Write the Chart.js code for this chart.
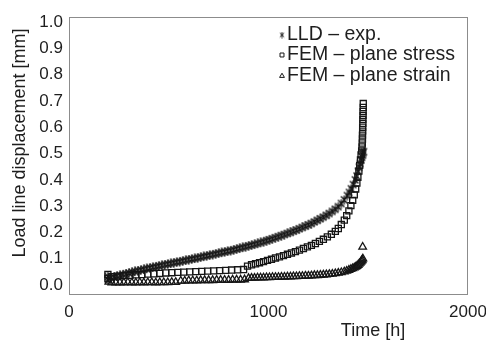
<!DOCTYPE html>
<html><head><meta charset="utf-8">
<script src="https://cdn.jsdelivr.net/npm/chart.js@4.4.1/dist/chart.umd.min.js"></script>
<style>html,body{margin:0;padding:0;background:#fff}#wrap{width:486px;height:340px;position:relative}</style>
</head><body><div id="wrap"><canvas id="c" width="486" height="340"></canvas></div>
<script>
const seriesNames = ['LLD \u2013 exp.', 'FEM \u2013 plane stress', 'FEM \u2013 plane strain'];
const xTicks = [0, 1000, 2000];
const yTicks = [0, 0.1, 0.2, 0.3, 0.4, 0.5, 0.6, 0.7, 0.8, 0.9, 1.0];
const xTitle = 'Time [h]';
const yTitle = 'Load line displacement [mm]';

// [time h, displacement mm]
const lldExp = [[195,0.02],[195,0.032],[210,0.028],[225,0.031],[240,0.034],[255,0.037],[270,0.04],[285,0.043],[300,0.046],[315,0.049],[330,0.052],[345,0.055],[360,0.057],[375,0.06],[390,0.063],[405,0.065],[420,0.068],[435,0.07],[450,0.073],[465,0.075],[480,0.078],[495,0.08],[510,0.082],[525,0.085],[540,0.087],[555,0.089],[570,0.092],[585,0.094],[600,0.097],[615,0.099],[630,0.101],[645,0.104],[660,0.106],[675,0.109],[690,0.111],[705,0.114],[720,0.116],[735,0.119],[750,0.121],[765,0.124],[780,0.126],[795,0.129],[810,0.131],[825,0.134],[840,0.137],[855,0.14],[870,0.143],[885,0.146],[900,0.149],[915,0.152],[930,0.155],[945,0.158],[960,0.162],[975,0.165],[990,0.169],[1005,0.172],[1020,0.176],[1035,0.18],[1050,0.184],[1065,0.188],[1080,0.192],[1095,0.196],[1110,0.2],[1125,0.205],[1140,0.209],[1155,0.214],[1170,0.219],[1185,0.224],[1200,0.229],[1215,0.234],[1230,0.24],[1245,0.246],[1260,0.252],[1275,0.258],[1290,0.265],[1305,0.272],[1320,0.28],[1335,0.288],[1350,0.298],[1365,0.31],[1380,0.324],[1395,0.34],[1405,0.352],[1415,0.366],[1425,0.382],[1435,0.4],[1442,0.415],[1449,0.432],[1455,0.448],[1460,0.462],[1465,0.475],[1469,0.486],[1472,0.494],[1475,0.501],[1477,0.507]];

const femStress = [[195,0.025],[195,0.04],[215,0.032],[245,0.034],[275,0.036],[305,0.037],[335,0.039],[365,0.04],[395,0.042],[425,0.043],[455,0.044],[485,0.046],[515,0.047],[545,0.048],[575,0.049],[605,0.05],[635,0.051],[665,0.052],[695,0.053],[725,0.054],[755,0.055],[785,0.056],[815,0.057],[845,0.058],[875,0.059],[895,0.072],[915,0.077],[935,0.081],[955,0.085],[975,0.089],[995,0.094],[1015,0.098],[1035,0.103],[1055,0.107],[1075,0.112],[1095,0.117],[1115,0.122],[1135,0.127],[1155,0.133],[1175,0.139],[1195,0.145],[1215,0.151],[1235,0.158],[1255,0.166],[1275,0.174],[1295,0.183],[1315,0.193],[1335,0.204],[1350,0.215],[1365,0.23],[1380,0.247],[1392,0.264],[1403,0.282],[1413,0.302],[1422,0.322],[1430,0.343],[1437,0.365],[1443,0.388],[1448,0.41],[1453,0.433],[1457,0.455],[1461,0.476],[1464,0.495],[1467,0.51],[1469,0.525],[1470,0.54],[1471,0.555],[1471,0.57],[1472,0.585],[1472,0.6],[1473,0.615],[1473,0.63],[1474,0.645],[1474,0.66],[1475,0.675],[1475,0.69]];

const femStrain = [[200,0.012],[215,0.009],[235,0.009],[255,0.009],[275,0.009],[295,0.01],[315,0.009],[335,0.009],[355,0.01],[375,0.009],[395,0.01],[415,0.01],[435,0.009],[455,0.01],[475,0.01],[495,0.01],[515,0.011],[535,0.011],[560,0.016],[580,0.016],[600,0.017],[620,0.017],[640,0.017],[660,0.018],[680,0.018],[700,0.018],[720,0.018],[740,0.019],[760,0.019],[780,0.019],[800,0.019],[820,0.02],[840,0.02],[860,0.02],[880,0.021],[900,0.026],[915,0.027],[930,0.027],[945,0.028],[960,0.028],[975,0.028],[990,0.029],[1005,0.029],[1020,0.03],[1035,0.03],[1050,0.03],[1065,0.031],[1080,0.031],[1095,0.032],[1110,0.032],[1125,0.033],[1140,0.033],[1155,0.034],[1170,0.034],[1185,0.035],[1200,0.035],[1215,0.036],[1230,0.037],[1245,0.037],[1260,0.038],[1275,0.039],[1290,0.04],[1305,0.041],[1320,0.042],[1335,0.044],[1350,0.046],[1365,0.048],[1380,0.051],[1392,0.054],[1403,0.057],[1413,0.06],[1422,0.063],[1430,0.066],[1437,0.069],[1443,0.072],[1449,0.076],[1454,0.08],[1459,0.084],[1463,0.088],[1467,0.092],[1470,0.096],[1473,0.1],[1472,0.145]];

const markerColor = '#161616';
const FONT = '"Liberation Sans", Arial, sans-serif';

function makeAsterisk(w, h, lw) {
  const c = document.createElement('canvas');
  c.width = w; c.height = h;
  const g = c.getContext('2d');
  g.strokeStyle = markerColor;
  g.lineWidth = lw;
  g.beginPath();
  g.moveTo(w / 2, 0.5); g.lineTo(w / 2, h - 0.5);
  g.moveTo(0.8, 1.5); g.lineTo(w - 0.8, h - 1.5);
  g.moveTo(w - 0.8, 1.5); g.lineTo(0.8, h - 1.5);
  g.stroke();
  return c;
}
const asteriskBig = makeAsterisk(8, 10, 1.3);
const asteriskSmall = makeAsterisk(6, 7, 1);
const markerStyles = [asteriskBig, 'rect', 'triangle'];
const legendStyles = [asteriskSmall, 'rect', 'triangle'];

function toXY(arr) { return arr.map(p => ({x: p[0], y: p[1]})); }

const frameAndText = {
  id: 'frameAndText',
  afterDraw(chart) {
    const {ctx, chartArea: a} = chart;
    ctx.save();
    ctx.strokeStyle = '#8c8c8c';
    ctx.lineWidth = 1;
    ctx.strokeRect(Math.round(a.left) + 0.5, Math.round(a.top) + 0.5, Math.round(a.right - a.left) - 1, Math.round(a.bottom - a.top));
    ctx.fillStyle = '#1e1e1e';
    ctx.font = '18px ' + FONT;
    ctx.textAlign = 'center';
    ctx.textBaseline = 'middle';
    ctx.fillText(xTitle, a.left + 0.762 * (a.right - a.left), 331);
    ctx.save();
    ctx.translate(20, 143);
    ctx.rotate(-Math.PI / 2);
    ctx.fillText(yTitle, 0, 0);
    ctx.restore();
    // legend
    const rows = [35, 55, 76];
    ctx.textAlign = 'left';
    ctx.font = '19.5px ' + FONT;
    seriesNames.forEach((name, i) => {
      ctx.strokeStyle = markerColor;
      ctx.fillStyle = 'rgba(0,0,0,0)';
      ctx.lineWidth = 1;
      Chart.helpers.drawPoint(ctx, {pointStyle: legendStyles[i], radius: 2.8, rotation: 0, borderWidth: 1}, 282, rows[i]);
      ctx.fillStyle = '#1e1e1e';
      ctx.fillText(name, 287, rows[i]);
    });
    ctx.restore();
  }
};

new Chart(document.getElementById('c'), {
  type: 'scatter',
  data: {
    datasets: [lldExp, femStress, femStrain].map((d, i) => ({
      label: seriesNames[i],
      data: toXY(d),
      showLine: false,
      pointStyle: markerStyles[i],
      pointRadius: i === 2 ? 4.4 : 4.3,
      borderColor: markerColor,
      backgroundColor: 'rgba(0,0,0,0)',
      pointBorderWidth: 1.3
    }))
  },
  options: {
    responsive: false,
    animation: false,
    devicePixelRatio: 1,
    layout: {padding: {left: 0, right: 18, top: 17, bottom: 0}},
    plugins: {legend: {display: false}, tooltip: {enabled: false}},
    scales: {
      x: {
        type: 'linear', min: 0, max: 2000,
        afterBuildTicks: s => { s.ticks = xTicks.map(v => ({value: v})); },
        afterFit: s => { s.height = 46; s.paddingLeft = 0; s.paddingRight = 0; },
        grid: {display: false, drawTicks: false},
        border: {display: false},
        ticks: {font: {size: 17, family: FONT}, color: '#1e1e1e', padding: 8, maxRotation: 0, callback: v => String(v)}
      },
      y: {
        type: 'linear', min: -0.034, max: 1.019,
        afterBuildTicks: s => { s.ticks = yTicks.map(v => ({value: v})); },
        afterFit: s => { s.width = 69; s.paddingTop = 0; s.paddingBottom = 0; },
        grid: {display: false, drawTicks: false},
        border: {display: false},
        ticks: {font: {size: 17, family: FONT}, color: '#1e1e1e', padding: 6, callback: v => Number(v).toFixed(1)}
      }
    }
  },
  plugins: [frameAndText]
});
</script>
</body></html>
